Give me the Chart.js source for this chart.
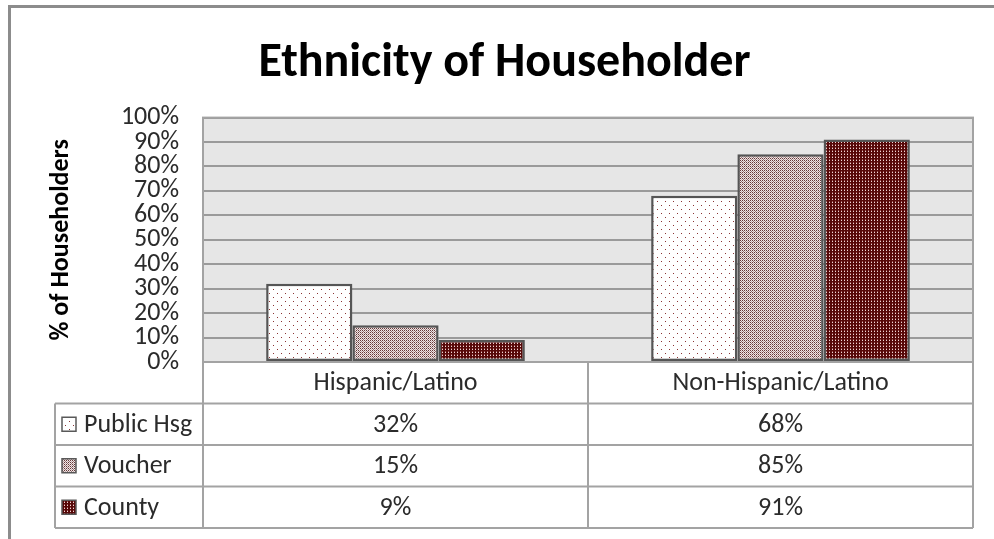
<!DOCTYPE html>
<html>
<head>
<meta charset="utf-8">
<title>Ethnicity of Householder</title>
<script src="https://cdn.jsdelivr.net/npm/chart.js@4"></script>
<style>
  html, body { margin: 0; padding: 0; background: #fff; }
  #wrap { position: relative; width: 994px; height: 539px; }
</style>
</head>
<body>
<div id="wrap"><canvas id="ethnicity"></canvas></div>
<script>
const categories = ["Hispanic/Latino", "Non-Hispanic/Latino"];
const seriesNames = ["Public Hsg", "Voucher", "County"];
const publicHsg = [32, 68];
const voucher = [15, 85];
const county = [9, 91];
const yTicks = [0, 10, 20, 30, 40, 50, 60, 70, 80, 90, 100];

const FONT = "Carlito, Lato, sans-serif";
const TEXT = "#2b2b2b";
const LINE = "#a3a3a3";

// small repeating tiles, like the old office fill patterns
function makePattern(kind) {
    const c = document.createElement("canvas");
    const g = c.getContext("2d");
    const px = (col, pts) => {
        g.fillStyle = col;
        pts.forEach(p => g.fillRect(p[0], p[1], 1, 1));
    };
    if (kind === "dots") {
        c.width = 8; c.height = 8;
        g.fillStyle = "#ffffff";
        g.fillRect(0, 0, 8, 8);
        px("#8a3434", [[1, 1], [5, 5]]);
    } else if (kind === "checker") {
        c.width = 4; c.height = 4;
        g.fillStyle = "#efe6e6";
        g.fillRect(0, 0, 4, 4);
        px("#663838", [[0, 0], [2, 2], [2, 0], [0, 2]]);
        px("#927272", [[1, 1], [3, 3]]);
        px("#c2aaaa", [[3, 1], [1, 3]]);
    } else {
        c.width = 3; c.height = 3;
        g.fillStyle = "#560808";
        g.fillRect(0, 0, 3, 3);
        px("#f0d6d6", [[1, 1]]);
        px("#9c5252", [[1, 0]]);
    }
    return g.createPattern(c, "repeat");
}

const fills = [makePattern("dots"), makePattern("checker"), makePattern("dense")];
const seriesValues = [publicHsg, voucher, county];

// gray frame, plot background and border
const framePlugin = {
    id: "frame",
    afterLayout(chart) {
        // the frame runs past the right edge, so centre the title on it
        const t = chart.titleBlock;
        if (t) {
            t.left += 14;
            t.right += 14;
        }
    },
    beforeDraw(chart) {
        const { ctx, chartArea: a } = chart;
        ctx.save();
        ctx.fillStyle = "#8c8c8c";
        ctx.fillRect(8, 5, chart.width, 3);
        ctx.fillRect(8, 5, 3, chart.height);
        ctx.fillStyle = "#e6e6e6";
        ctx.fillRect(a.left, a.top, a.right - a.left, a.bottom - a.top);
        ctx.restore();
    },
    afterDatasetsDraw(chart) {
        const { ctx, chartArea: a } = chart;
        ctx.save();
        ctx.strokeStyle = LINE;
        ctx.lineWidth = 2;
        ctx.strokeRect(a.left, a.top, a.right - a.left, a.bottom - a.top);
        ctx.restore();
    }
};

// data table under the plot: header row holds the x labels, then one row per series
const tablePlugin = {
    id: "dataTable",
    afterDraw(chart) {
        const { ctx, chartArea: a, scales: { x } } = chart;
        const rows = seriesNames.length + 1;
        const rowH = (x.bottom - a.bottom) / rows;
        const colW = (a.right - a.left) / categories.length;
        const legendLeft = 55;

        ctx.save();
        ctx.strokeStyle = LINE;
        ctx.lineWidth = 2;
        ctx.beginPath();
        for (let r = 1; r <= rows; r++) {
            const y = a.bottom + r * rowH;
            ctx.moveTo(legendLeft, y);
            ctx.lineTo(a.right, y);
        }
        ctx.moveTo(legendLeft, a.bottom + rowH);
        ctx.lineTo(legendLeft, x.bottom);
        for (let i = 0; i <= categories.length; i++) {
            const xx = a.left + i * colW;
            ctx.moveTo(xx, a.bottom);
            ctx.lineTo(xx, x.bottom);
        }
        ctx.stroke();

        ctx.font = "26px " + FONT;
        ctx.textBaseline = "middle";
        seriesNames.forEach((name, s) => {
            const cy = a.bottom + (s + 1.5) * rowH;
            // legend key
            const k = 14;
            ctx.fillStyle = fills[s];
            ctx.fillRect(legendLeft + 7, cy - k / 2, k, k);
            ctx.strokeStyle = "#595959";
            ctx.lineWidth = 1.5;
            ctx.strokeRect(legendLeft + 7, cy - k / 2, k, k);
            ctx.fillStyle = TEXT;
            ctx.textAlign = "left";
            ctx.fillText(name, legendLeft + 29, cy + 1);
            ctx.textAlign = "center";
            seriesValues[s].forEach((v, i) => {
                ctx.fillText(v + "%", x.getPixelForValue(i), cy + 1);
            });
        });
        ctx.restore();
    }
};

const chartEl = document.getElementById("ethnicity");

new Chart(chartEl, {
    type: "bar",
    data: {
        labels: categories,
        datasets: seriesNames.map((name, s) => ({
            label: name,
            data: seriesValues[s],
            backgroundColor: fills[s],
            borderColor: "#555555",
            borderWidth: 2.5,
            borderSkipped: false,
            barPercentage: 1,
            categoryPercentage: 0.672,
        })),
    },
    options: {
        responsive: true,
        maintainAspectRatio: false,
        animation: false,
        layout: {
            padding: { left: 8, top: 8, right: 21, bottom: 11 },
        },
        plugins: {
            legend: { display: false },
            tooltip: { enabled: false },
            title: {
                display: true,
                text: "Ethnicity of Householder",
                color: "#000",
                font: { family: FONT, size: 48, weight: "bold" },
                padding: { top: 27, bottom: 25 },
            },
        },
        scales: {
            x: {
                grid: { display: false, drawTicks: false },
                border: { display: false },
                ticks: {
                    color: TEXT,
                    font: { family: FONT, size: 26 },
                    padding: 6,
                    maxRotation: 0,
                },
                afterFit(scale) {
                    scale.height = 166;
                },
            },
            y: {
                min: 0,
                max: 100,
                afterBuildTicks(scale) {
                    scale.ticks = yTicks.map(v => ({ value: v }));
                },
                grid: {
                    color: "#9a9a9a",
                    lineWidth: 2,
                    drawTicks: false,
                },
                border: { display: false },
                ticks: {
                    color: TEXT,
                    font: { family: FONT, size: 26 },
                    padding: 24,
                    autoSkip: false,
                    callback: v => v + "%",
                },
                title: {
                    display: true,
                    text: "% of Householders",
                    color: "#000",
                    font: { family: FONT, size: 26, weight: "bold" },
                    padding: { top: 38, bottom: 0 },
                },
                afterFit(scale) {
                    scale.width = 195;
                },
            },
        },
    },
    plugins: [framePlugin, tablePlugin],
});
</script>
</body>
</html>
